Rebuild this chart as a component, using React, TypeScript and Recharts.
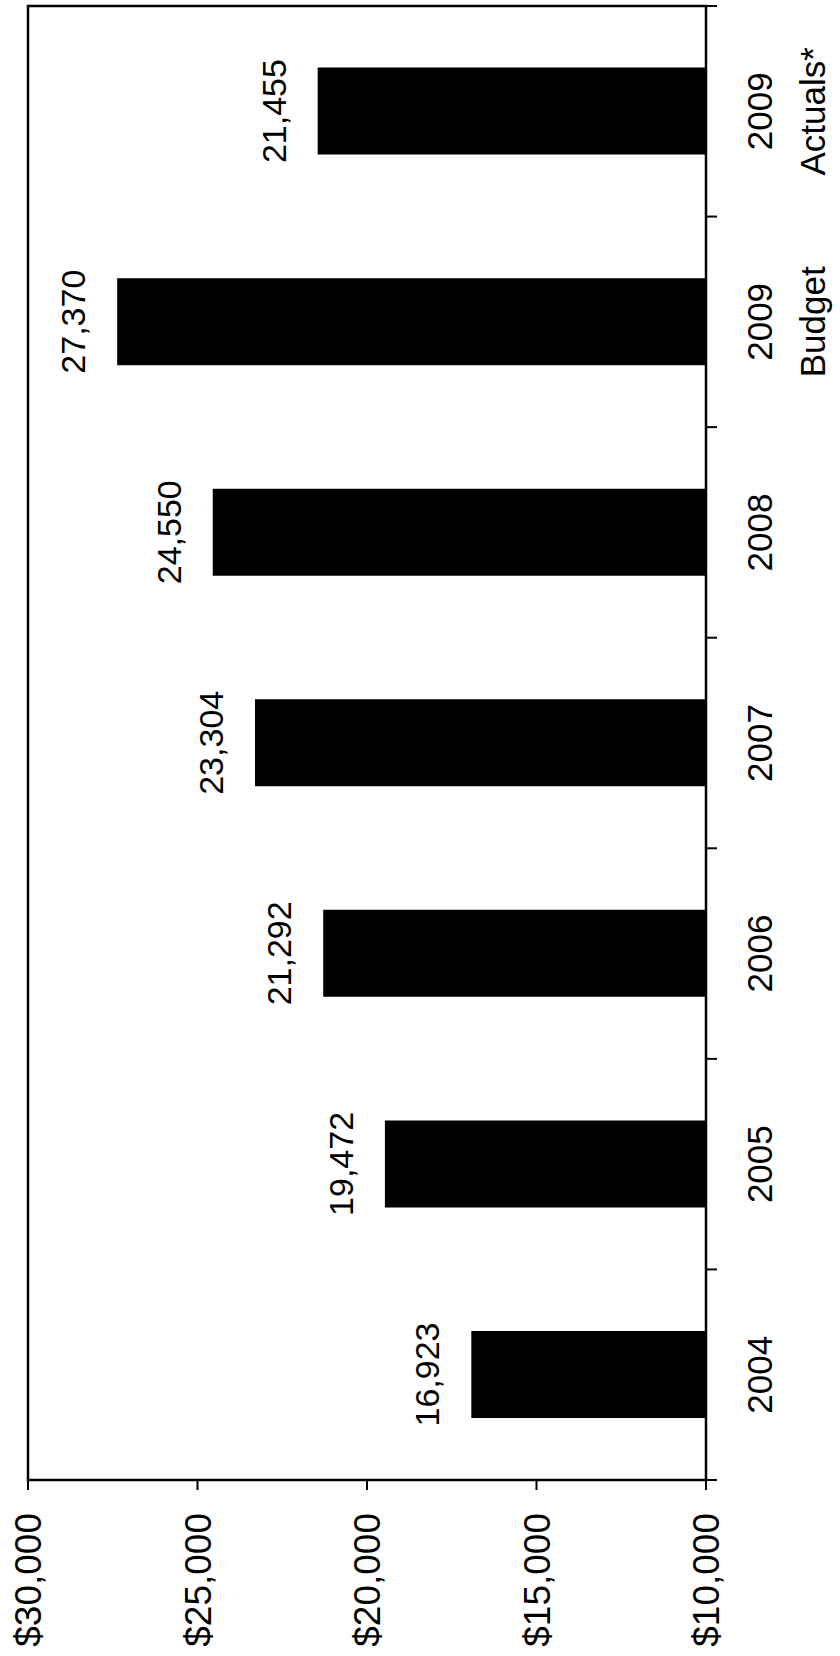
import { BarChart, Bar, XAxis, YAxis, LabelList, ReferenceArea } from 'recharts'

const years = ['2004', '2005', '2006', '2007', '2008', '2009\nBudget', '2009\nActuals*']
const spending = [16923, 19472, 21292, 23304, 24550, 27370, 21455]
const valueTicks = [10000, 15000, 20000, 25000, 30000]

const data = years.map((year, i) => ({ year, spending: spending[i] }))

const font = '"Liberation Sans", Arial, sans-serif'

// category label + Excel style tick marks between the bands
const YearTick = (props: any) => {
    const { x, y, payload, index, width } = props
    const half = payload.offset || width / years.length / 2
    const lines = String(payload.value).split('\n')
    return (
        <g>
            <line x1={x - half} x2={x - half} y1={y} y2={y + 11} stroke='#000' strokeWidth={2} />
            {index === years.length - 1 && <line x1={x + half} x2={x + half} y1={y} y2={y + 11} stroke='#000' strokeWidth={2} />}
            <text x={x} y={y + 41} textAnchor='middle' fontSize={35} fontFamily={font} fill='#000'>
                {lines.map((l, i) => <tspan key={i} x={x} dy={i === 0 ? '0.72em' : 53}>{l}</tspan>)}
            </text>
        </g>
    )
}

const App = () => {
    return (
        <div style={{ position: 'absolute', left: 0, top: 0, width: 840, height: 1656, overflow: 'hidden', background: '#fff' }}>
            <div style={{ width: 1656, height: 840, transformOrigin: '0 0', transform: 'translate(0px, 1656px) rotate(-90deg)' }}>
                <BarChart width={1656} height={840} data={data} margin={{ top: 28, right: 6, bottom: 0, left: 0 }}>
                    <XAxis dataKey='year' height={134} axisLine={false} tickLine={false} tickSize={0} tickMargin={0} interval={0} tick={<YearTick />} />
                    <YAxis width={176} domain={[10000, 30000]} ticks={valueTicks} allowDataOverflow axisLine={false}
                        tickSize={10} tickMargin={23} tickLine={{ stroke: '#000', strokeWidth: 2 }}
                        tick={{ fontSize: 37, fontFamily: font, fill: '#000' }}
                        tickFormatter={(v: number) => '$' + v.toLocaleString('en-US')} />
                    <ReferenceArea y1={10000} y2={30000} fill='none' stroke='#000' strokeWidth={2.5} fillOpacity={0} />
                    <Bar dataKey='spending' fill='#000' barSize={87} isAnimationActive={false}>
                        <LabelList dataKey='spending' position='top' offset={32} fontSize={34} fontFamily={font} fill='#000'
                            formatter={(v: any) => Number(v).toLocaleString('en-US')} />
                    </Bar>
                </BarChart>
            </div>
        </div>
    )
}

export default App
